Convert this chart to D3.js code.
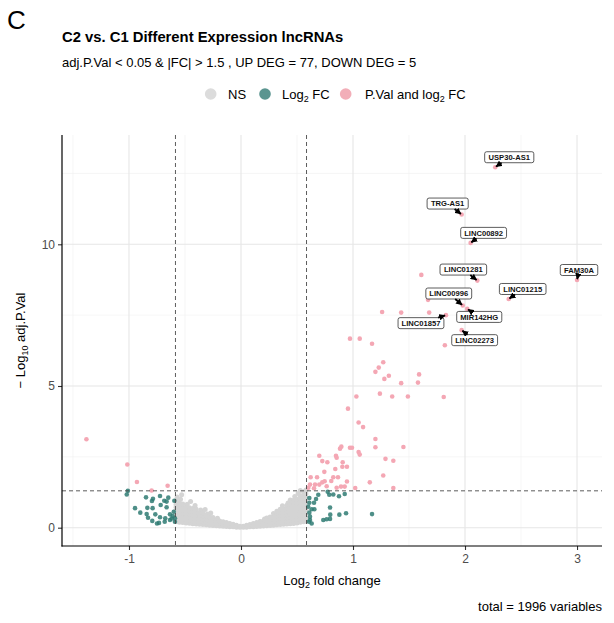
<!DOCTYPE html>
<html>
<head>
<meta charset="utf-8">
<script src="https://cdn.jsdelivr.net/npm/d3@7"></script>
<style>
  body { margin: 0; background: #fff; }
  svg { display: block; }
  text { font-family: "Liberation Sans", Arial, Helvetica, sans-serif; }
</style>
</head>
<body>
<svg id="chart" width="614" height="623"></svg>
<script>
// ---- Axis ticks and thresholds ----
const xTicks = [-1, 0, 1, 2, 3];
const xMinor = [-1.5, -0.5, 0.5, 1.5, 2.5];
const yTicks = [0, 5, 10];
const yMinor = [2.5, 7.5, 12.5];
const fcCutoff = [-0.585, 0.585];      // log2(1.5)
const pCutoff = 1.301;                 // -log10(0.05)

// ---- Labelled lncRNAs (log2FC, -log10 adj.P) ----
const geneNames = ["USP30-AS1", "TRG-AS1", "LINC00892", "LINC01281", "FAM30A",
                   "LINC01215", "LINC00996", "MIR142HG", "LINC01857", "LINC02273"];
const geneFC    = [2.27, 1.97, 2.05, 2.11, 3.00, 2.39, 1.98, 2.02, 1.83, 1.97];
const geneLogP  = [12.72, 11.05, 10.05, 8.72, 8.74, 8.07, 7.84, 7.72, 7.50, 6.97];

// ---- Other up-regulated (P.Val and log2 FC) ----
const upFC = [1.61, 1.26, 1.43, 1.68, 1.67, 1.82, 0.973, 1.06, 1.17, 1.27, 1.23, 1.20, 1.32, 1.28,
  1.59, 1.43, 1.58, 1.03, 1.24, 1.35, 1.49, 1.81, 0.955, 1.05, 1.09, 1.20, 1.20, 1.45, 0.896, 0.884,
  0.973, 0.991, 1.05, 1.06, 0.699, 0.848, 0.854, 0.726, 0.771, 0.908, 1.29, 1.36, 0.905, 0.946, 0.842,
  1.27, 0.622, 0.679, 0.744, 0.824, 0.866, 0.747, 0.806, 0.946, 1.15, 0.616, 0.661, 0.699, 0.726,
  0.652, 0.854, 0.893, 1.02, 1.36, 0.926, 0.765, 0.601];
const upLogP = [8.92, 7.61, 7.59, 7.59, 8.04, 6.44, 6.67, 6.67, 6.49, 5.84, 5.65, 5.50, 5.36, 5.25,
  5.41, 5.10, 5.12, 4.63, 4.73, 4.63, 4.63, 4.61, 4.20, 3.71, 3.55, 3.13, 2.84, 2.85, 2.86, 2.79,
  2.82, 2.82, 2.67, 2.58, 2.54, 2.54, 2.47, 2.35, 2.31, 2.31, 2.43, 2.36, 2.15, 2.15, 2.07,
  1.84, 1.78, 1.78, 1.97, 1.78, 1.78, 1.64, 1.65, 1.63, 1.60, 1.52, 1.52, 1.52, 1.60,
  1.39, 1.41, 1.45, 1.40, 1.40, 1.45, 1.46, 1.41];

// ---- Down-regulated (P.Val and log2 FC) ----
const downFC   = [-1.38, -1.015, -0.929, -0.655, -0.798];
const downLogP = [3.12, 2.23, 1.61, 1.48, 1.31];

// ---- Fold change only (Log2 FC) ----
const fcOnlyFC = [-1.01, -1.02, -0.848, -0.786, -0.723, -0.685, -0.649, -0.664, -0.595, -0.795,
  -0.717, -0.664, -0.836, -0.946, -0.789, -0.899, -0.842, -0.830, -0.765, -0.723, -0.676, -0.634,
  -0.792, -0.750, -0.732, -0.681, -0.634, -0.610, -0.600, -0.590, -0.590, -0.619,
  0.774, 0.788, 0.824, 0.875, 0.926, 0.690, 0.670, 0.610, 0.652, 0.610, 0.795, 0.631, 0.655,
  0.610, 0.797, 0.878, 0.938, 1.17, 0.735, 0.765, 0.795, 0.616, 0.631, 0.607, 0.616, 0.600];
const fcOnlyLogP = [1.30, 1.17, 1.07, 1.02, 1.12, 0.95, 1.06, 0.92, 0.95, 0.94,
  0.80, 0.72, 0.70, 0.69, 0.69, 0.53, 0.48, 0.35, 0.47, 0.37, 0.33, 0.47,
  0.24, 0.15, 0.17, 0.21, 0.27, 0.41, 0.56, 0.33, 0.21, 0.32,
  1.27, 1.16, 1.17, 1.11, 1.19, 1.16, 1.01, 1.05, 0.88, 0.88, 0.71, 0.65, 0.65,
  0.53, 0.46, 0.46, 0.51, 0.48, 0.27, 0.30, 0.31, 0.27, 0.15, 0.21, 0.39, 0.74];

// ---- Not significant (log2FC, -log10 adj.P) ----
const nsPoints = [
  [-0.58,0.22],[-0.58,0.32],[-0.58,0.42],[-0.58,0.52],[-0.58,0.62],[-0.58,0.72],[-0.58,0.82],[-0.58,0.95],[-0.57,1.08],
  [-0.55,0.19],[-0.55,0.30],[-0.55,0.41],[-0.55,0.53],[-0.55,0.64],[-0.55,0.76],[-0.55,0.88],[-0.54,1.00],[-0.53,1.16],
  [-0.52,0.18],[-0.52,0.28],[-0.52,0.39],[-0.52,0.50],[-0.52,0.61],[-0.52,0.72],[-0.52,0.84],
  [-0.49,0.17],[-0.49,0.27],[-0.49,0.37],[-0.49,0.48],[-0.49,0.60],[-0.49,0.72],[-0.48,0.83],
  [-0.46,0.16],[-0.46,0.26],[-0.46,0.37],[-0.46,0.48],[-0.46,0.59],[-0.46,0.70],[-0.45,0.92],
  [-0.43,0.14],[-0.43,0.24],[-0.43,0.35],[-0.43,0.46],[-0.43,0.57],[-0.43,0.68],
  [-0.40,0.13],[-0.40,0.23],[-0.40,0.34],[-0.40,0.45],[-0.40,0.56],[-0.41,0.78],[-0.40,0.65],
  [-0.37,0.12],[-0.37,0.22],[-0.37,0.32],[-0.37,0.42],[-0.37,0.52],[-0.36,0.62],
  [-0.34,0.11],[-0.34,0.21],[-0.34,0.31],[-0.34,0.42],[-0.34,0.53],[-0.32,0.64],
  [-0.31,0.10],[-0.31,0.20],[-0.31,0.30],[-0.31,0.40],[-0.30,0.48],
  [-0.28,0.09],[-0.28,0.19],[-0.28,0.29],[-0.28,0.39],[-0.27,0.52],
  [-0.25,0.08],[-0.25,0.17],[-0.25,0.27],[-0.25,0.36],
  [-0.22,0.07],[-0.22,0.16],[-0.22,0.25],[-0.21,0.33],
  [-0.19,0.06],[-0.19,0.15],[-0.19,0.24],
  [-0.16,0.05],[-0.16,0.13],[-0.16,0.21],
  [-0.13,0.04],[-0.13,0.11],[-0.13,0.18],
  [-0.10,0.03],[-0.10,0.09],[-0.10,0.15],
  [-0.07,0.03],[-0.07,0.08],[-0.07,0.12],
  [-0.04,0.02],[-0.04,0.06],[-0.04,0.09],
  [-0.01,0.02],[-0.01,0.05],
  [0.02,0.02],[0.02,0.05],
  [0.05,0.02],[0.05,0.06],[0.05,0.09],
  [0.08,0.03],[0.08,0.07],[0.08,0.11],
  [0.11,0.03],[0.11,0.09],[0.11,0.15],
  [0.14,0.04],[0.14,0.11],[0.14,0.18],
  [0.17,0.05],[0.17,0.13],[0.17,0.22],
  [0.20,0.06],[0.20,0.15],[0.20,0.24],[0.21,0.31],
  [0.23,0.07],[0.23,0.16],[0.23,0.25],[0.23,0.34],
  [0.26,0.08],[0.26,0.18],[0.26,0.28],[0.26,0.38],
  [0.29,0.09],[0.29,0.19],[0.29,0.29],[0.29,0.38],[0.29,0.50],
  [0.32,0.10],[0.32,0.20],[0.32,0.30],[0.32,0.40],[0.32,0.50],[0.32,0.58],
  [0.35,0.11],[0.35,0.21],[0.35,0.32],[0.35,0.43],[0.35,0.54],[0.35,0.65],
  [0.38,0.12],[0.38,0.22],[0.38,0.33],[0.38,0.44],[0.38,0.55],[0.38,0.66],[0.37,0.77],
  [0.41,0.13],[0.41,0.24],[0.41,0.35],[0.41,0.46],[0.41,0.57],[0.41,0.68],[0.41,0.79],[0.42,0.87],
  [0.44,0.14],[0.44,0.25],[0.44,0.36],[0.44,0.48],[0.44,0.60],[0.44,0.72],[0.44,0.84],[0.44,0.98],
  [0.47,0.15],[0.47,0.26],[0.47,0.38],[0.47,0.50],[0.47,0.62],[0.47,0.74],[0.47,0.86],[0.47,0.97],[0.48,1.10],
  [0.50,0.17],[0.50,0.28],[0.50,0.40],[0.50,0.52],[0.50,0.64],[0.50,0.76],[0.50,0.88],[0.50,1.00],[0.51,1.21],
  [0.53,0.19],[0.53,0.30],[0.53,0.42],[0.53,0.54],[0.53,0.66],[0.53,0.78],[0.53,0.90],[0.53,1.02],[0.53,1.13],[0.53,1.31],
  [0.56,0.21],[0.56,0.32],[0.56,0.44],[0.56,0.56],[0.56,0.68],[0.56,0.80],[0.56,0.92],[0.56,1.04],[0.56,1.16],[0.56,1.27],
  [0.58,0.24],[0.58,0.36],[0.58,0.50],[0.58,0.64],[0.58,0.78],[0.58,0.92],[0.58,1.06],[0.58,1.20],[0.58,1.33]
];

// ---- Layout & style ----
const W = 614, H = 623;
const panel = { left: 62, right: 602, top: 135, bottom: 546 };
const colNS = "#d4d4d4", colFC = "#2f7b73", colBoth = "#f4a7b4";
const legendNS = "#dcdcdc", legendFC = "#5b9590", legendBoth = "#f2aeb8";
const ptR = 2.3;
// label box offsets (px) from each labelled point
const labelOffset = {
  "USP30-AS1": [14, -10], "TRG-AS1": [-14, -11], "LINC00892": [13, -10],
  "LINC01281": [-14, -11], "FAM30A": [2, -10], "LINC01215": [14, -10],
  "LINC00996": [-14, -12], "MIR142HG": [12, 8], "LINC01857": [-25, 8],
  "LINC02273": [13, 10]
};

const svg = d3.select("#chart");
svg.append("rect").attr("width", W).attr("height", H).attr("fill", "#fff");

const x = d3.scaleLinear().domain([-1.598, 3.223]).range([panel.left, panel.right]);
const y = d3.scaleLinear().domain([-0.646, 13.857]).range([panel.bottom, panel.top]);

// gridlines
const grid = svg.append("g");
grid.selectAll(".xmin").data(xMinor).enter().append("line")
  .attr("x1", d => x(d)).attr("x2", d => x(d)).attr("y1", panel.top).attr("y2", panel.bottom)
  .attr("stroke", "#f0f0f0").attr("stroke-width", 0.6);
grid.selectAll(".ymin").data(yMinor).enter().append("line")
  .attr("y1", d => y(d)).attr("y2", d => y(d)).attr("x1", panel.left).attr("x2", panel.right)
  .attr("stroke", "#f0f0f0").attr("stroke-width", 0.6);
grid.selectAll(".xmaj").data(xTicks).enter().append("line")
  .attr("x1", d => x(d)).attr("x2", d => x(d)).attr("y1", panel.top).attr("y2", panel.bottom)
  .attr("stroke", "#e6e6e6").attr("stroke-width", 1.1);
grid.selectAll(".ymaj").data(yTicks).enter().append("line")
  .attr("y1", d => y(d)).attr("y2", d => y(d)).attr("x1", panel.left).attr("x2", panel.right)
  .attr("stroke", "#e6e6e6").attr("stroke-width", 1.1);

// points
const pts = svg.append("g");
pts.selectAll(".ns").data(nsPoints).enter().append("circle")
  .attr("cx", d => x(d[0])).attr("cy", d => y(d[1])).attr("r", ptR + 0.2).attr("fill", colNS);
const fcOnly = fcOnlyFC.map((v, i) => [v, fcOnlyLogP[i]]);
pts.selectAll(".fc").data(fcOnly).enter().append("circle")
  .attr("cx", d => x(d[0])).attr("cy", d => y(d[1])).attr("r", ptR)
  .attr("fill", colFC).attr("fill-opacity", 0.85);
const both = upFC.map((v, i) => [v, upLogP[i]])
  .concat(downFC.map((v, i) => [v, downLogP[i]]))
  .concat(geneFC.map((v, i) => [v, geneLogP[i]]));
pts.selectAll(".both").data(both).enter().append("circle")
  .attr("cx", d => x(d[0])).attr("cy", d => y(d[1])).attr("r", ptR).attr("fill", colBoth);

// threshold lines
const thr = svg.append("g").attr("stroke", "#4a4a4a").attr("stroke-width", 0.9)
  .attr("stroke-dasharray", "4,3");
thr.selectAll(".v").data(fcCutoff).enter().append("line")
  .attr("x1", d => x(d)).attr("x2", d => x(d)).attr("y1", panel.top).attr("y2", panel.bottom);
thr.append("line").attr("x1", panel.left).attr("x2", panel.right)
  .attr("y1", y(pCutoff)).attr("y2", y(pCutoff));

// axes (plain hyphen for negative ticks)
const tickFmt = d => String(d);
const xAxis = svg.append("g").attr("transform", `translate(0,${panel.bottom})`)
  .call(d3.axisBottom(x).tickValues(xTicks).tickSize(4).tickPadding(4).tickFormat(tickFmt));
const yAxis = svg.append("g").attr("transform", `translate(${panel.left},0)`)
  .call(d3.axisLeft(y).tickValues(yTicks).tickSize(4).tickPadding(3).tickFormat(tickFmt));
[xAxis, yAxis].forEach(a => {
  a.select(".domain").remove();
  a.selectAll(".tick line").attr("stroke", "#333").attr("stroke-width", 1.1);
  a.selectAll(".tick text").attr("fill", "#4d4d4d").attr("font-size", 12)
    .attr("font-family", "Liberation Sans, Arial, sans-serif");
});
svg.append("line").attr("x1", panel.left).attr("x2", panel.left)
  .attr("y1", panel.top).attr("y2", panel.bottom + 0.5).attr("stroke", "#000").attr("stroke-width", 1.2);
svg.append("line").attr("x1", panel.left - 0.5).attr("x2", panel.right)
  .attr("y1", panel.bottom).attr("y2", panel.bottom).attr("stroke", "#000").attr("stroke-width", 1.2);

// gene labels with arrows
const defs = svg.append("defs");
defs.append("marker").attr("id", "arr").attr("viewBox", "0 0 10 10")
  .attr("refX", 9).attr("refY", 5).attr("markerWidth", 6.5).attr("markerHeight", 6.5)
  .attr("orient", "auto").attr("markerUnits", "userSpaceOnUse")
  .append("path").attr("d", "M0,0 L10,5 L0,10 z").attr("fill", "#000");

const lab = svg.append("g");
geneNames.forEach((name, i) => {
  const px = x(geneFC[i]), py = y(geneLogP[i]);
  const off = labelOffset[name];
  const cx = px + off[0], cy = py + off[1];
  const t = lab.append("text").attr("x", cx).attr("y", cy + 2.7)
    .attr("text-anchor", "middle").attr("font-size", 7.6).attr("font-weight", "bold")
    .attr("fill", "#111").text(name);
  const bb = t.node().getBBox();
  const bw = bb.width + 7, bh = 11;
  lab.insert("rect", "text").attr("x", cx - bw / 2).attr("y", cy - bh / 2)
    .attr("width", bw).attr("height", bh).attr("rx", 2).attr("ry", 2)
    .attr("fill", "#fff").attr("stroke", "#333").attr("stroke-width", 0.8);
  // connector from box edge to point
  const dx = px - cx, dy = py - cy;
  const tx = dx !== 0 ? (bw / 2) / Math.abs(dx) : Infinity;
  const ty = dy !== 0 ? (bh / 2) / Math.abs(dy) : Infinity;
  const tEdge = Math.min(tx, ty);
  if (tEdge < 1) {
    const sx = cx + dx * tEdge, sy = cy + dy * tEdge;
    const len = Math.hypot(px - sx, py - sy);
    const ex = px - (px - sx) / len * 1.0, ey = py - (py - sy) / len * 1.0;
    lab.append("line").attr("x1", sx).attr("y1", sy).attr("x2", ex).attr("y2", ey)
      .attr("stroke", "#000").attr("stroke-width", 1.8).attr("marker-end", "url(#arr)");
  }
});

// titles
svg.append("text").attr("x", 7).attr("y", 29).attr("font-size", 26).attr("fill", "#000").text("C");
svg.append("text").attr("x", 62).attr("y", 42).attr("font-size", 14.8).attr("font-weight", "bold")
  .attr("fill", "#000").text("C2 vs. C1 Different Expression lncRNAs");
svg.append("text").attr("x", 62).attr("y", 67).attr("font-size", 13).attr("fill", "#000")
  .text("adj.P.Val < 0.05 & |FC| > 1.5 , UP DEG = 77, DOWN DEG = 5");

// legend
const leg = svg.append("g").attr("font-size", 13).attr("fill", "#000");
function legItem(cxp, col, tx, parts) {
  leg.append("circle").attr("cx", cxp).attr("cy", 94).attr("r", 5.8).attr("fill", col);
  const t = leg.append("text").attr("x", tx).attr("y", 98.5);
  parts.forEach(p => {
    if (p.sub) t.append("tspan").attr("font-size", 9).attr("dy", 3).text(p.s);
    else t.append("tspan").attr("dy", p.back ? -3 : 0).text(p.s);
  });
}
legItem(210.7, legendNS, 228, [{ s: "NS" }]);
legItem(265, legendFC, 282, [{ s: "Log" }, { s: "2", sub: true }, { s: " FC", back: true }]);
legItem(345.7, legendBoth, 365, [{ s: "P.Val and log" }, { s: "2", sub: true }, { s: " FC", back: true }]);

// axis titles
const xt = svg.append("text").attr("x", (panel.left + panel.right) / 2).attr("y", 585)
  .attr("text-anchor", "middle").attr("font-size", 13).attr("fill", "#000");
xt.append("tspan").text("Log");
xt.append("tspan").attr("font-size", 9).attr("dy", 3).text("2");
xt.append("tspan").attr("dy", -3).text(" fold change");

const yt = svg.append("text")
  .attr("transform", `translate(25,${(panel.top + panel.bottom) / 2}) rotate(-90)`)
  .attr("text-anchor", "middle").attr("font-size", 13).attr("fill", "#000");
yt.append("tspan").text("\u2212 Log");
yt.append("tspan").attr("font-size", 9).attr("dy", 3).text("10");
yt.append("tspan").attr("dy", -3).text(" adj.P.Val");

// caption
svg.append("text").attr("x", 602).attr("y", 611).attr("text-anchor", "end")
  .attr("font-size", 13).attr("fill", "#000").text("total = 1996 variables");
</script>
</body>
</html>
